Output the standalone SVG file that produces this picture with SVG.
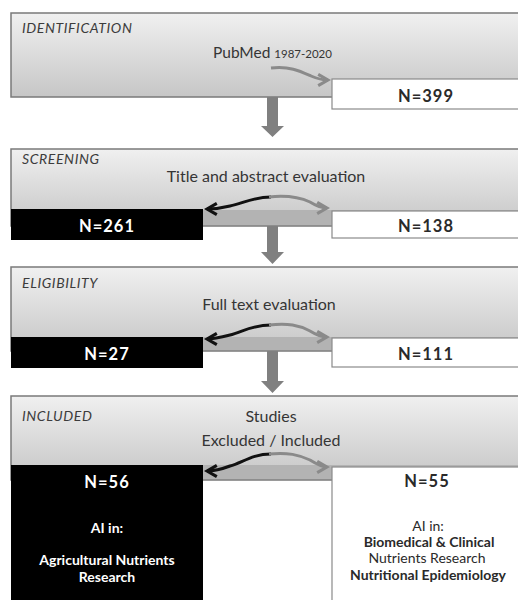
<svg xmlns="http://www.w3.org/2000/svg" width="518" height="600" viewBox="0 0 518 600">
<style>
.stage{fill:url(#g);stroke:#7a7a7a;stroke-width:1.5}
.band{fill:#b3b3b3}
.blk{fill:#000}
.wht{fill:#fff;stroke:#8a8a8a;stroke-width:1.2}
.lab{font-family:Lato,"Open Sans",sans-serif;font-style:italic;font-size:14px;letter-spacing:0.6px;fill:#3c3c3c}
.txt{font-family:Lato,"Open Sans",sans-serif;font-size:16px;fill:#353535;text-anchor:middle}
.n{font-family:Lato,"Open Sans",sans-serif;font-weight:bold;font-size:16.5px;letter-spacing:1px;text-anchor:middle}
.nd{fill:#2a2a2a}
.nw{fill:#fff}
.s{font-family:Lato,"Open Sans",sans-serif;font-size:14px;text-anchor:middle}
.b{font-weight:bold}
.down{fill:#808080}
.cb{fill:none;stroke:#111;stroke-width:3;marker-end:url(#mb)}
.cg{fill:none;stroke:#8a8a8a;stroke-width:3;marker-end:url(#mg)}
</style>
<defs>
<linearGradient id="g" x1="0" y1="0" x2="0" y2="1">
<stop offset="0" stop-color="#f0f0f0"/>
<stop offset="1" stop-color="#c6c6c6"/>
</linearGradient>
<marker id="mb" markerUnits="userSpaceOnUse" markerWidth="14" markerHeight="14" viewBox="0 0 10 10" refX="8" refY="5" orient="auto">
<path d="M1,1 L8,5 L1,9" fill="none" stroke="#111" stroke-width="2.2"/>
</marker>
<marker id="mg" markerUnits="userSpaceOnUse" markerWidth="14" markerHeight="14" viewBox="0 0 10 10" refX="8" refY="5" orient="auto">
<path d="M1,1 L8,5 L1,9" fill="none" stroke="#8a8a8a" stroke-width="2.2"/>
</marker>
</defs>
<rect width="518" height="600" fill="#fff"/>

<g id="identification">
<rect class="stage" x="11" y="13" width="530" height="84"/>
<text class="lab" x="22" y="33">IDENTIFICATION</text>
<text x="213" y="58" font-family="Lato, 'Open Sans', sans-serif" font-size="15.5" fill="#353535">PubMed <tspan font-size="11.5">1987-2020</tspan></text>
</g>
<g id="n399">
<rect class="wht" x="332" y="79" width="210" height="30"/>
<text class="n nd" x="426" y="102" font-size="17">N=399</text>
</g>

<g id="screening">
<rect class="stage" x="11" y="149" width="530" height="77"/>
<rect class="band" x="12" y="210" width="528" height="15"/>
<text class="lab" x="22" y="164">SCREENING</text>
<text class="txt" x="266" y="182">Title and abstract evaluation</text>
</g>
<g id="n261">
<rect class="blk" x="11" y="209" width="192" height="31"/>
<text class="n nw" x="107" y="232">N=261</text>
</g>
<g id="n138">
<rect class="wht" x="332" y="211" width="210" height="27"/>
<text class="n nd" x="426" y="232">N=138</text>
</g>

<g id="eligibility">
<rect class="stage" x="11" y="267" width="530" height="84"/>
<rect class="band" x="12" y="337" width="528" height="13"/>
<text class="lab" x="22" y="288">ELIGIBILITY</text>
<text class="txt" x="269" y="310">Full text evaluation</text>
</g>
<g id="n27">
<rect class="blk" x="11" y="337" width="192" height="31"/>
<text class="n nw" x="107" y="360">N=27</text>
</g>
<g id="n111">
<rect class="wht" x="332" y="338" width="210" height="29"/>
<text class="n nd" x="426" y="360">N=111</text>
</g>

<g id="included">
<rect class="stage" x="11" y="396" width="530" height="84"/>
<rect class="band" x="12" y="465" width="528" height="14"/>
<text class="lab" x="22" y="421">INCLUDED</text>
<text class="txt" x="271" y="422">Studies</text>
<text class="txt" x="271" y="446">Excluded / Included</text>
</g>
<g id="n56">
<rect class="blk" x="11" y="465" width="192" height="140"/>
<text class="n nw" x="107" y="488">N=56</text>
<text class="s b" x="107" y="533" fill="#fff" font-size="16">AI in:</text>
<text class="s b" x="107" y="565" fill="#fff" font-size="13">Agricultural Nutrients</text>
<text class="s b" x="107" y="582" fill="#fff" font-size="13">Research</text>
</g>
<g id="n55">
<rect class="wht" x="332" y="467" width="210" height="140"/>
<text class="n nd" x="427" y="487">N=55</text>
<text class="s" x="428" y="531" fill="#2a2a2a" font-size="16">AI in:</text>
<text class="s b" x="429" y="547" fill="#2a2a2a">Biomedical &amp; Clinical</text>
<text class="s" x="427" y="563" fill="#2a2a2a">Nutrients Research</text>
<text class="s b" x="428" y="580" fill="#2a2a2a">Nutritional Epidemiology</text>
</g>

<g id="connectors">
<path class="down" d="M267,97 L278,97 L278,126 L284,126 L272.5,137 L261,126 L267,126 Z"/>
<path class="down" d="M267,226 L278,226 L278,252 L284,252 L272.5,264 L261,252 L267,252 Z"/>
<path class="down" d="M267,351 L278,351 L278,381 L284,381 L272.5,393 L261,381 L267,381 Z"/>
<path class="cg" d="M271,68 C290,66 300,71 311,76 C318,79 322,80 328,80"/>
<path class="cb" d="M271,197 C252,197 242,204 230,206 C222,208 214,209 207,209"/>
<path class="cg" d="M269,197 C288,195 299,197 310,202 C318,207 322,208 327,208"/>
<path class="cb" d="M271,325 C252,325 242,332 230,335 C222,337 214,339 207,339"/>
<path class="cg" d="M269,325 C288,323 299,325 310,331 C318,336 322,337 327,337"/>
<path class="cb" d="M271,454 C252,454 242,463 230,466 C222,469 214,471 207,471"/>
<path class="cg" d="M269,454 C288,452 299,455 310,460 C318,465 322,467 327,467"/>
</g>
</svg>
